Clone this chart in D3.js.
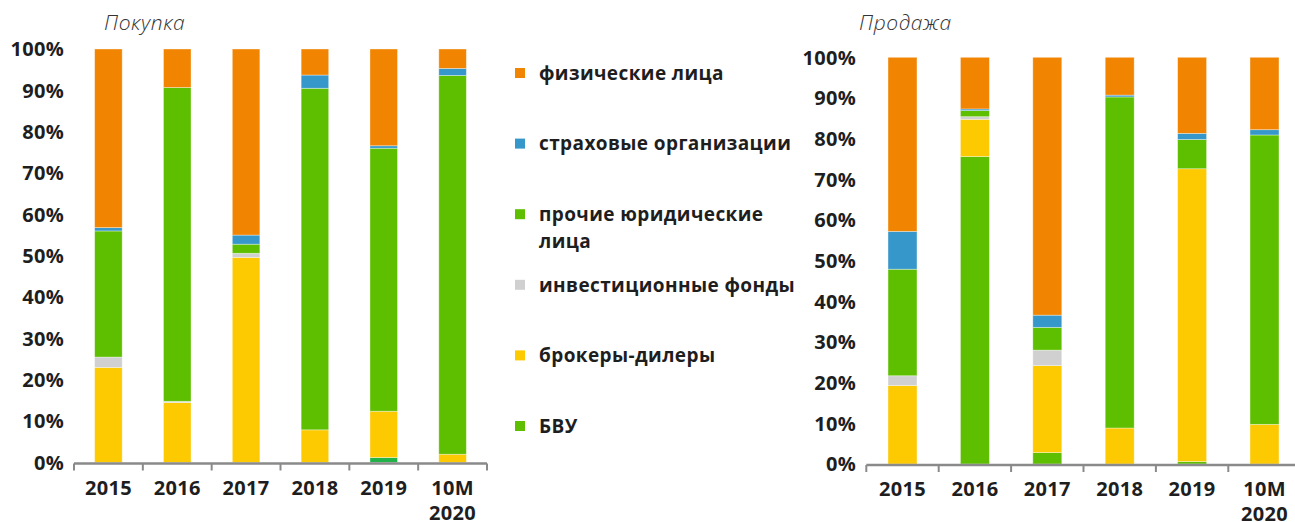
<!DOCTYPE html>
<html>
<head>
<meta charset="utf-8">
<script src="https://cdn.jsdelivr.net/npm/d3@7"></script>
<style>
  body { margin: 0; background: #ffffff; }
  svg { display: block; font-family: "Open Sans", sans-serif; }
  .tick-label { font-weight: 700; font-size: 20px; fill: #1e1e1e; letter-spacing: 0.3px; }
  .legend-label { font-weight: 700; font-size: 19px; fill: #1e1e1e; letter-spacing: 0.4px; }
  .chart-title { font-style: italic; font-weight: 300; font-size: 21px; fill: #333; letter-spacing: 0.6px; }
</style>
</head>
<body>
<svg id="chart" width="1295" height="522"></svg>
<script>
// categories and series
let categories = ["2015", "2016", "2017", "2018", "2019", "10M\n2020"];
let seriesNames = ["БВУ", "брокеры-дилеры", "инвестиционные фонды", "прочие юридические лица", "страховые организации", "физические лица"];
let yTicks = [0, 10, 20, 30, 40, 50, 60, 70, 80, 90, 100];

// Покупка (%)
let buyBVU      = [0,    0,    0,    0,    1.2,  0];
let buyBrokers  = [23.0, 14.5, 49.6, 7.9,  11.2, 2.0];
let buyFunds    = [2.5,  0.3,  1.0,  0,    0,    0];
let buyOther    = [30.5, 75.9, 2.2,  82.6, 63.6, 91.6];
let buyInsur    = [0.8,  0,    2.2,  3.2,  0.6,  1.7];
let buyPersons  = [43.2, 9.3,  45.0, 6.3,  23.4, 4.7];

// Продажа (%)
let sellBVU     = [0,    75.6, 2.8,  0,    0.6,  0];
let sellBrokers = [19.3, 9.15, 21.4, 8.85, 72.0, 9.75];
let sellFunds   = [2.4,  0.65, 3.8,  0,    0,    0];
let sellOther   = [26.2, 1.5,  5.6,  81.4, 7.2,  71.15];
let sellInsur   = [9.3,  0.4,  3.0,  0.45, 1.5,  1.3];
let sellPersons = [42.8, 12.7, 63.4, 9.3,  18.7, 17.8];

let colorsLeft  = ["#22b24a", "#fdc900", "#d0d0d0", "#5ebf00", "#3597ca", "#f18400"];
let colorsRight = ["#5ebf00", "#fdc900", "#d0d0d0", "#5ebf00", "#3597ca", "#f18400"];
let legendOrder = [5, 4, 3, 2, 1, 0];
let legendLines = {
  3: ["прочие юридические", "лица"]
};

let svg = d3.select("#chart");

function makeRows(cols) {
  return categories.map(function(c, i) {
    let row = { cat: c };
    seriesNames.forEach(function(s, j) { row[s] = cols[j][i]; });
    return row;
  });
}

function drawChart(opts) {
  let g = svg.append("g");
  let x = d3.scaleBand()
    .domain(categories)
    .range([opts.x0, opts.x1])
    .paddingInner(0.6)
    .paddingOuter(0.3);
  let y = d3.scaleLinear().domain([0, 100]).range([opts.yBottom, opts.yTop]);

  let stacked = d3.stack().keys(seriesNames)(makeRows(opts.data));

  g.selectAll(".layer")
    .data(stacked).enter()
    .append("g")
    .attr("fill", function(d, i) { return opts.colors[i]; })
    .selectAll("rect")
    .data(function(d) { return d; }).enter()
    .append("rect")
    .attr("x", function(d) { return x(d.data.cat); })
    .attr("width", x.bandwidth())
    .attr("y", function(d) { return y(d[1]); })
    .attr("height", function(d) { return Math.max(0, y(d[0]) - y(d[1])); })
    .attr("stroke", "rgba(255,255,255,0.45)")
    .attr("stroke-width", 0.8);

  // y labels
  g.selectAll(".ylab")
    .data(yTicks).enter()
    .append("text")
    .attr("class", "tick-label")
    .attr("x", opts.yLabelX)
    .attr("y", function(d) { return y(d); })
    .attr("dy", "0.36em")
    .attr("text-anchor", "end")
    .text(function(d) { return d + "%"; });

  // x axis line and ticks
  let axisY = opts.yBottom + 1;
  g.append("line")
    .attr("x1", opts.x0).attr("x2", opts.x1)
    .attr("y1", axisY).attr("y2", axisY)
    .attr("stroke", "#8a8a8a").attr("stroke-width", 2.5);
  let step = x.step();
  let edges = d3.range(categories.length + 1).map(function(i) { return opts.x0 + i * step; });
  g.selectAll(".xtick")
    .data(edges).enter()
    .append("line")
    .attr("x1", function(d) { return d; }).attr("x2", function(d) { return d; })
    .attr("y1", axisY).attr("y2", axisY + 7)
    .attr("stroke", "#8a8a8a").attr("stroke-width", 2);

  let xl = g.selectAll(".xlab")
    .data(categories).enter()
    .append("text")
    .attr("class", "tick-label")
    .attr("text-anchor", "middle")
    .attr("x", function(d) { return x(d) + x.bandwidth() / 2; })
    .attr("y", opts.xLabelY);
  xl.selectAll("tspan")
    .data(function(d) { return d.split("\n"); }).enter()
    .append("tspan")
    .attr("x", function() { return d3.select(this.parentNode).attr("x"); })
    .attr("dy", function(d, i) { return i === 0 ? 0 : 25; })
    .text(function(d) { return d; });

  g.append("text")
    .attr("class", "chart-title")
    .attr("x", opts.titleX)
    .attr("y", 30)
    .text(opts.title);
}

drawChart({
  data: [buyBVU, buyBrokers, buyFunds, buyOther, buyInsur, buyPersons],
  colors: colorsLeft,
  x0: 74, x1: 487, yTop: 49, yBottom: 462.5,
  yLabelX: 64, xLabelY: 495, titleX: 104, title: "Покупка"
});

drawChart({
  data: [sellBVU, sellBrokers, sellFunds, sellOther, sellInsur, sellPersons],
  colors: colorsRight,
  x0: 866.3, x1: 1300.7, yTop: 57.3, yBottom: 464,
  yLabelX: 856, xLabelY: 496, titleX: 859, title: "Продажа"
});

// legend
let legend = svg.append("g");
legendOrder.forEach(function(si, k) {
  let cy = 73 + k * 70.6;
  legend.append("rect")
    .attr("x", 515).attr("y", cy - 5)
    .attr("width", 10).attr("height", 10)
    .attr("fill", colorsRight[si]);
  let lines = legendLines[si] || [seriesNames[si]];
  let t = legend.append("text")
    .attr("class", "legend-label")
    .attr("x", 539).attr("y", cy);
  lines.forEach(function(l, i) {
    t.append("tspan").attr("x", 539).attr("dy", i === 0 ? "0.36em" : 27.4).text(l);
  });
});
</script>
</body>
</html>
